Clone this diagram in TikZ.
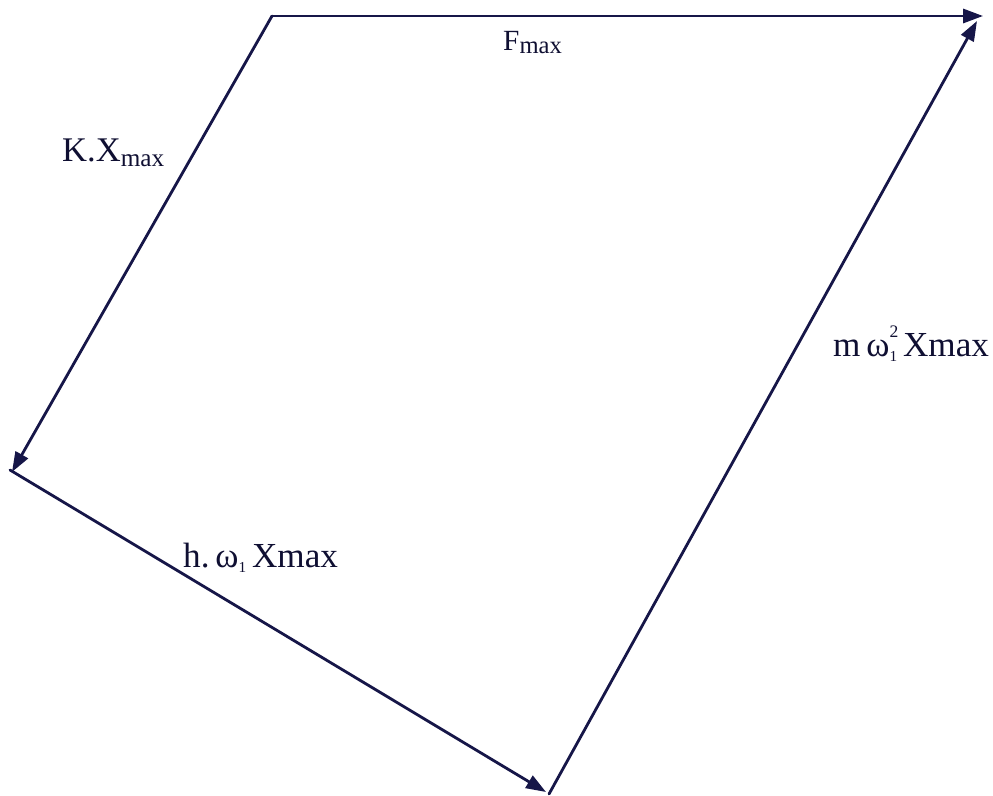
\documentclass[tikz,border=0pt]{standalone}
\usepackage{fontspec}
\setmainfont{Liberation Serif}
\usetikzlibrary{arrows.meta}
\definecolor{vecnavy}{RGB}{22,22,72}
\newcommand{\fsz}[1]{\fontsize{#1}{#1}\selectfont}
\begin{document}
\begin{tikzpicture}[x=0.03cm,y=-0.03cm,
  vec/.style={draw=vecnavy,line width=2.4pt,-{Triangle[length=17pt,width=12pt]},line cap=round},
  lab/.style={inner sep=0pt,anchor=base west,text=vecnavy!70!black}]
\useasboundingbox (0,0) rectangle (993,796);
\coordinate (A) at (272,16);
\coordinate (B) at (983,16);
\coordinate (Bd) at (977,21);
\coordinate (C) at (12,472);
\coordinate (Cs) at (10,470);
\coordinate (D) at (546,792);
\coordinate (Ds) at (549,794);
\draw[vec] (A) -- (B);
\draw[vec] (A) -- (C);
\draw[vec] (Cs) -- (D);
\draw[vec] (Ds) -- (Bd);
\node[lab] (lf) at (503,51) {\fsz{25}F\lower2.5pt\hbox{\fsz{21}max}};
\node[lab] (lk) at (62,162) {\fsz{29.5}K.X\lower3.5pt\hbox{\fsz{21.5}max}};
\node[lab] (lh) at (183,567) {\fsz{30}h.\,ω\lower5pt\hbox{\fsz{13}1}\,Xmax};
\node[lab] (lm) at (833,356) {\fsz{30}m\,ω\rlap{\raise16pt\hbox{\fsz{15}2}}\lower5pt\hbox{\fsz{13}1}\,Xmax};
\end{tikzpicture}
\end{document}
